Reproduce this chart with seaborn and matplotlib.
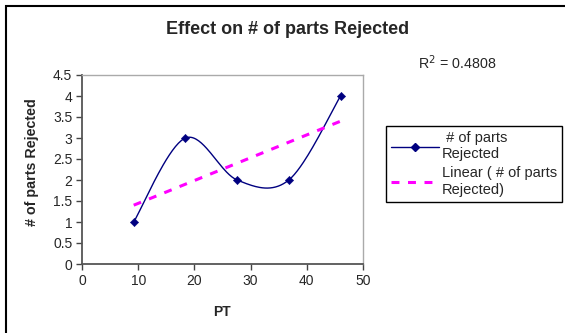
import numpy as np
import pandas as pd
import matplotlib
matplotlib.use("Agg")
import matplotlib.pyplot as plt
import seaborn as sns
from matplotlib.lines import Line2D
from matplotlib.patches import Rectangle

# ---- data ----
pt = [9.2, 18.4, 27.6, 36.8, 46.0]
rejected = [1, 3, 2, 2, 4]
x_ticks = [0, 10, 20, 30, 40, 50]
y_ticks = [0, 0.5, 1, 1.5, 2, 2.5, 3, 3.5, 4, 4.5]
title = "Effect on # of parts Rejected"
series_name = " # of parts\nRejected"
trend_name = "Linear ( # of parts\nRejected)"

sns.set_style("white")
plt.rcParams['font.family'] = ['Liberation Sans', 'DejaVu Sans']

W, H = 565, 333
fig = plt.figure(figsize=(W / 100, H / 100), dpi=100)
fig.patch.set_facecolor("white")
# outer chart border (only left/top visible in reference)
fig.add_artist(Rectangle((6 / W, -0.05), 1.2, 1 - 6 / H + 0.05, transform=fig.transFigure,
                         fill=False, edgecolor="black", linewidth=1.5))

ax = fig.add_axes([82 / W, 1 - 264 / H, (363 - 82) / W, (264 - 75) / H])

# smoothed line (Excel-style Bezier smoothing through the data points)
P = np.column_stack([pt, rejected]).astype(float)
n = len(P)
curve = []
tt = np.linspace(0, 1, 40)
for i in range(n - 1):
    p0 = P[max(i - 1, 0)]
    p1 = P[i]
    p2 = P[i + 1]
    p3 = P[min(i + 2, n - 1)]
    b1 = p1 + (p2 - p0) / 6
    b2 = p2 - (p3 - p1) / 6
    seg = ((1 - tt)[:, None] ** 3 * p1 + 3 * ((1 - tt) ** 2 * tt)[:, None] * b1
           + 3 * ((1 - tt) * tt ** 2)[:, None] * b2 + (tt ** 3)[:, None] * p2)
    curve.append(seg if i == 0 else seg[1:])
curve = np.vstack(curve)
cdf = pd.DataFrame({"x": curve[:, 0], "y": curve[:, 1]})
sns.lineplot(data=cdf, x="x", y="y", sort=False, color="#000080", linewidth=1.0, ax=ax)

# linear trendline
slope, intercept = np.polyfit(pt, rejected, 1)
tx = np.array([pt[0], pt[-1]])
tdf = pd.DataFrame({"x": tx, "y": intercept + slope * tx})
sns.lineplot(data=tdf, x="x", y="y", color="#FF00FF", linewidth=2.2,
             dashes=False, ax=ax, linestyle=(0, (2.6, 2.8)))

# markers
df = pd.DataFrame({"PT": pt, "rej": rejected})
sns.scatterplot(data=df, x="PT", y="rej", marker="D", s=18, color="#000080",
                edgecolor="#000080", ax=ax, zorder=5)

ax.set_xlim(0, 50)
ax.set_ylim(0, 4.5)
ax.set_xticks(x_ticks)
ax.set_yticks(y_ticks)
ax.set_xticklabels([str(v) for v in x_ticks], fontsize=10)
ax.set_yticklabels([("%g" % v) for v in y_ticks], fontsize=10)
ax.tick_params(axis="both", which="both", direction="out", length=4, width=1,
               color="#444444", pad=3, left=True, bottom=True)
for s in ["left", "bottom"]:
    ax.spines[s].set_color("#555555")
    ax.spines[s].set_linewidth(1.3)
for s in ["top", "right"]:
    ax.spines[s].set_color("#aaaaaa")
    ax.spines[s].set_linewidth(1.0)
ax.set_xlabel("PT", fontsize=10, fontweight="bold")
ax.set_ylabel("# of parts Rejected", fontsize=10.3, fontweight="bold")
ax.xaxis.set_label_coords((222 - 82) / 281, -(312 - 264) / 189)
ax.yaxis.set_label_coords(-(82 - 32) / 281, (264 - 162) / 189)
ax.xaxis.label.set_va("center")
ax.yaxis.label.set_va("center")

fig.text(287.5 / W, 1 - 34 / H, title, ha="center", va="baseline", fontsize=13, fontweight="bold")
r2 = np.corrcoef(pt, rejected)[0, 1] ** 2
fig.text(418 / W, 1 - 63 / H, "R$^2$ = %.4f" % r2, ha="left", va="center", fontsize=10.3)

handles = [Line2D([], [], color="#000080", linewidth=1.0, marker="D", markersize=4),
           Line2D([], [], color="#FF00FF", linewidth=2.2, linestyle=(0, (2.6, 2.8)))]
leg = fig.legend(handles, [series_name, trend_name], loc="upper left",
                 bbox_to_anchor=(386 / W, 1 - 126 / H), fontsize=10.5, frameon=True,
                 fancybox=False, framealpha=1, edgecolor="black", borderpad=0.35,
                 handlelength=3.3, handletextpad=0.2, labelspacing=0.35, borderaxespad=0)
leg.get_frame().set_linewidth(1.0)

fig.savefig("out.png", dpi=100)
